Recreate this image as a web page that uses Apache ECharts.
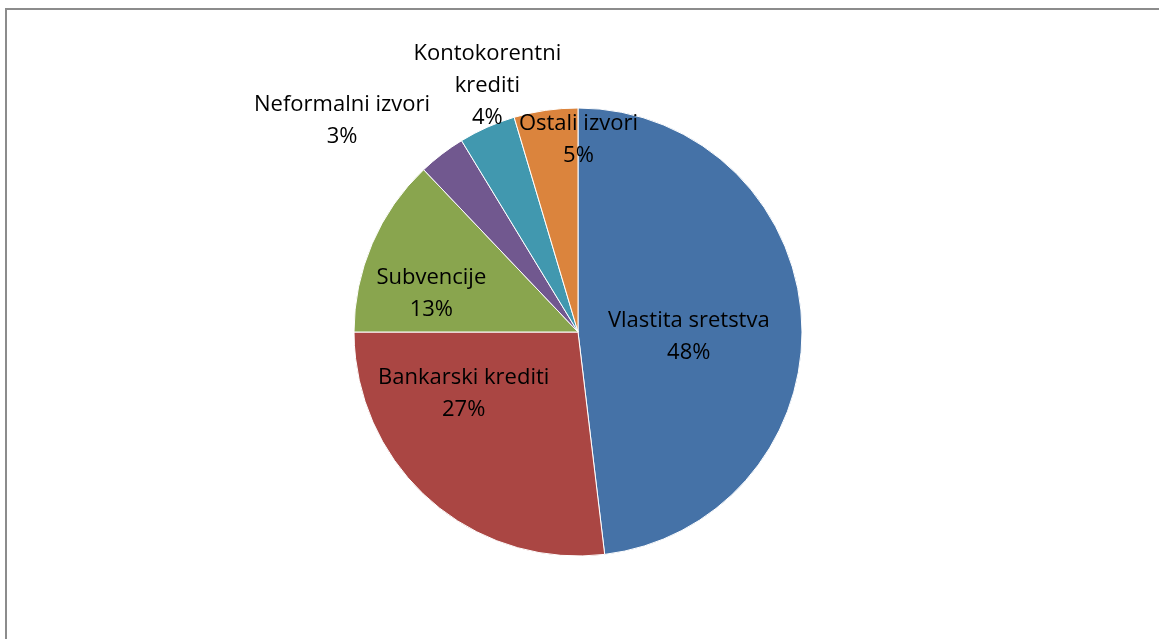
<!DOCTYPE html>
<html>
<head>
<meta charset="utf-8">
<script src="https://cdn.jsdelivr.net/npm/echarts@6/dist/echarts.min.js"></script>
<style>
	html, body { margin: 0; padding: 0; background: #fff; }
	#chart { width: 1159px; height: 639px; }
</style>
</head>
<body>
<div id="chart"></div>
<script>
	'use strict';

	var categories = ['Vlastita sretstva', 'Bankarski krediti', 'Subvencije', 'Neformalni izvori', 'Kontokorentni krediti', 'Ostali izvori'];
	var shares = [48.1, 26.9, 12.9, 3.4, 4.1, 4.6];
	var sliceColors = ['#4572A7', '#AA4643', '#89A54E', '#71588F', '#4198AF', '#DB843D'];
	// label nudges, Excel "best fit" placement
	var labelOffsets = [[-4, 12], [-38, -24], [-41, 7], [-166, -120], [-44, -141], [17, -78]];
	var labelNames = ['Vlastita sretstva', 'Bankarski krediti', 'Subvencije', 'Neformalni izvori', 'Kontokorentni\nkrediti', 'Ostali izvori'];

	var pieData = categories.map(function(name, i) {
		return {
			name: name,
			value: shares[i],
			itemStyle: { color: sliceColors[i] },
			label: { offset: labelOffsets[i] }
		};
	});

	var chart = echarts.init(document.getElementById('chart'));
	chart.setOption({
		animation: false,
		graphic: [{
			type: 'polyline',
			shape: { points: [[6, 639], [6, 9], [1159, 9]] },
			style: { stroke: '#8c8c8c', lineWidth: 2, fill: null }
		}],
		series: [{
			type: 'pie',
			center: [578, 332],
			radius: 224,
			startAngle: 90,
			clockwise: true,
			percentPrecision: 0,
			avoidLabelOverlap: false,
			labelLayout: { hideOverlap: false },
			itemStyle: {
				borderColor: '#ffffff',
				borderWidth: 1
			},
			label: {
				show: true,
				position: 'inside',
				color: '#000',
				fontFamily: 'Open Sans',
				fontSize: 22,
				lineHeight: 32,
				align: 'center',
				formatter: function(p) {
					return labelNames[p.dataIndex] + '\n' + p.percent + '%';
				}
			},
			labelLine: { show: false },
			emphasis: { disabled: true },
			data: pieData
		}]
	});
</script>
</body>
</html>
